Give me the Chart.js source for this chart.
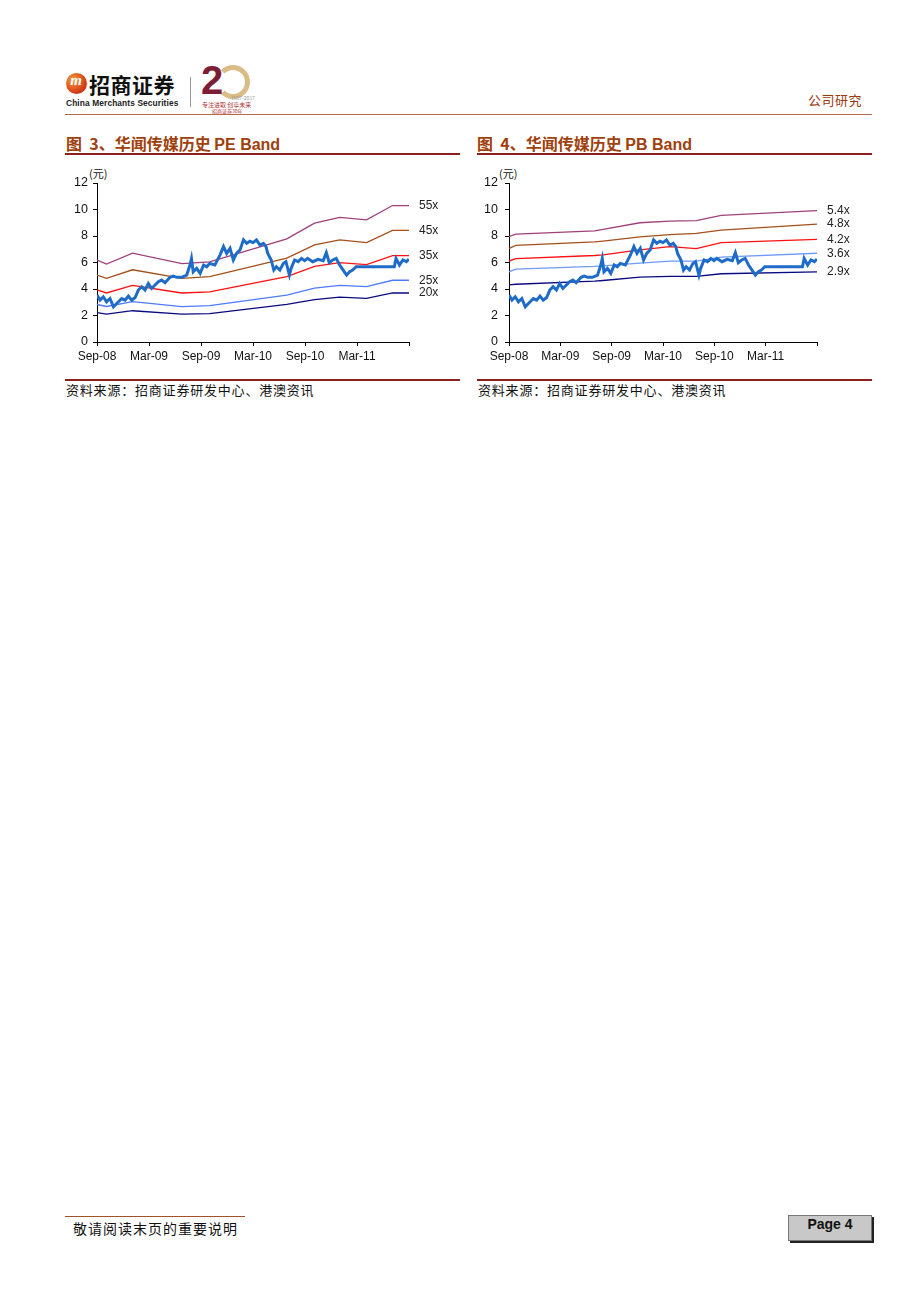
<!DOCTYPE html>
<html lang="zh">
<head>
<meta charset="UTF-8">
<title>华闻传媒历史 PE / PB Band</title>
<script src="https://cdn.jsdelivr.net/npm/chart.js"></script>
<style>
  html, body { margin: 0; padding: 0; background: #fff; }
  body { width: 920px; height: 1302px; position: relative; overflow: hidden;
         font-family: "Noto Sans CJK SC", "Liberation Sans", sans-serif; }
  .abs { position: absolute; }
  .title { font-size: 16px; font-weight: bold; color: #A0400C; white-space: nowrap; }
  .title .en { font-family: "Liberation Sans", Arial, sans-serif; }
  .rule { height: 2px; background: #8E1F1F; }
  .src { font-size: 13px; letter-spacing: 0.8px; color: #111; white-space: nowrap; }
  .unit { font-size: 11px; color: #111; }
</style>
</head>
<body>

<!-- 页眉 -->
<div class="abs" style="left:66px;top:73px;width:21px;height:21px;border-radius:50%;background:radial-gradient(circle at 35% 35%,#F6A23A,#D8401A 60%,#A61C10);"></div>
<div class="abs" style="left:67px;top:72px;width:18px;text-align:center;color:#fff;font:italic bold 15px 'Liberation Serif',serif;">m</div>
<div class="abs" style="left:89px;top:69px;font-size:21px;font-weight:bold;color:#111;letter-spacing:0.5px;">招商证券</div>
<div class="abs" style="left:66px;top:98px;font:bold 8.4px 'Liberation Sans',Arial,sans-serif;color:#222;letter-spacing:0.1px;">China Merchants Securities</div>
<div class="abs" style="left:190px;top:77px;width:1px;height:30px;background:#999;"></div>
<div class="abs" style="left:216px;top:65px;width:24px;height:24px;border-radius:50%;border:5px solid #D9BC86;border-left-color:transparent;"></div>
<div class="abs" style="left:201px;top:58px;font:bold 40px 'Liberation Sans',Arial,sans-serif;color:#7B1E35;">2</div>
<div class="abs" style="left:231px;top:94px;font-size:5px;color:#999;">1987-2017</div>
<div class="abs" style="left:202px;top:100px;font-size:6px;color:#B03030;">专注进取 创享未来</div>
<div class="abs" style="left:212px;top:107px;font-size:5px;color:#B03030;">招商证券30年</div>
<div class="abs" style="left:808px;top:90px;font-size:13px;color:#9A3A12;letter-spacing:0.5px;">公司研究</div>
<div class="abs" style="left:65px;top:114px;width:807px;height:1px;background:#B56A50;"></div>

<!-- 图 3 -->
<div class="abs title" style="left:66px;top:131px;">图&nbsp; 3、华闻传媒历史 <span class="en">PE Band</span></div>
<div class="abs rule" style="left:65px;top:153px;width:395px;"></div>
<div class="abs unit" style="left:89px;top:165px;">(元)</div>
<canvas id="peChart" class="abs" style="left:60px;top:160px;" width="400" height="215"></canvas>
<div class="abs rule" style="left:65px;top:379px;width:395px;"></div>
<div class="abs src" style="left:66px;top:380px;">资料来源：招商证券研发中心、港澳资讯</div>

<!-- 图 4 -->
<div class="abs title" style="left:477px;top:131px;">图&nbsp; 4、华闻传媒历史 <span class="en">PB Band</span></div>
<div class="abs rule" style="left:477px;top:153px;width:395px;"></div>
<div class="abs unit" style="left:499px;top:165px;">(元)</div>
<canvas id="pbChart" class="abs" style="left:470px;top:160px;" width="410" height="215"></canvas>
<div class="abs rule" style="left:477px;top:379px;width:395px;"></div>
<div class="abs src" style="left:478px;top:380px;">资料来源：招商证券研发中心、港澳资讯</div>

<!-- 页脚 -->
<div class="abs" style="left:65px;top:1216px;width:180px;height:1px;background:#A0522D;"></div>
<div class="abs" style="left:73px;top:1218px;font-size:14px;letter-spacing:1px;color:#111;">敬请阅读末页的重要说明</div>
<div class="abs" style="left:788px;top:1215px;width:82px;height:24px;background:#C8C8C8;border:1px solid #777;box-shadow:2px 2px 0 #222;text-align:center;line-height:24px;font:bold 14px 'Liberation Sans',Arial,sans-serif;color:#111;">Page 4</div>

<script>
// 横轴：自 2008 年 9 月起的月数
var xTickLabels = ['Sep-08', 'Mar-09', 'Sep-09', 'Mar-10', 'Sep-10', 'Mar-11', ''];

// 股价（元）
var priceMonths = [
    0, 0.35, 0.73, 1.1, 1.5, 1.9, 2.27, 2.85, 3.23, 3.62,
    4.0, 4.4, 4.77, 5.15, 5.54, 5.92, 6.3, 6.7, 7.08, 7.46,
    7.85, 8.42, 8.8, 9.2, 9.77, 10.35, 10.73, 10.9, 11.1, 11.5,
    11.9, 12.3, 12.65, 13.0, 13.6, 14.2, 14.6, 14.96, 15.35, 15.73,
    16.1, 16.5, 16.9, 17.27, 17.65, 18.0, 18.4, 18.8, 19.2, 19.5,
    19.7, 20.1, 20.4, 20.7, 21.1, 21.5, 21.8, 22.2, 22.4, 22.8,
    23.2, 23.6, 23.96, 24.3, 24.9, 25.5, 26.1, 26.46, 26.8, 27.2,
    27.6, 28.0, 28.4, 28.8, 29.15, 29.5, 29.9, 34.3, 34.5, 34.9,
    35.3, 35.7, 36
];
var priceValues = [
    3.54, 3.16, 3.41, 3.03, 3.28, 2.65, 2.9, 3.28, 3.16, 3.46,
    3.16, 3.36, 3.92, 4.17, 3.92, 4.42, 4.04, 4.3, 4.55, 4.67,
    4.47, 4.88, 4.98, 4.88, 4.88, 5.05, 5.81, 6.3, 5.3, 5.56,
    5.18, 5.81, 5.68, 5.93, 5.81, 6.57, 7.2, 6.69, 7.07, 6.19,
    6.69, 6.95, 7.71, 7.45, 7.6, 7.5, 7.7, 7.32, 7.45, 7.2,
    6.69, 6.19, 5.43, 5.68, 5.43, 5.93, 6.06, 5.05, 5.56, 6.19,
    6.06, 6.31, 6.14, 6.31, 6.06, 6.24, 6.14, 6.74, 5.98, 6.19,
    6.31, 5.81, 5.43, 5.05, 5.3, 5.43, 5.68, 5.68, 6.31, 5.81,
    6.19, 6.06, 6.25
];

// PE Band
var peMonths = [0, 1.1, 4.1, 9.8, 13, 21.9, 25.1, 28, 31.1, 34.1, 36];
var pe55 = [6.19, 5.88, 6.70, 5.92, 6.05, 7.78, 8.97, 9.40, 9.22, 10.30, 10.30];
var pe45 = [5.05, 4.80, 5.45, 4.80, 4.94, 6.33, 7.33, 7.70, 7.50, 8.42, 8.42];
var pe35 = [3.93, 3.70, 4.28, 3.70, 3.78, 4.94, 5.70, 5.99, 5.84, 6.52, 6.52];
var pe25 = [2.83, 2.68, 3.04, 2.67, 2.75, 3.54, 4.06, 4.27, 4.18, 4.66, 4.66];
var pe20 = [2.22, 2.10, 2.36, 2.10, 2.14, 2.84, 3.20, 3.38, 3.30, 3.70, 3.70];

// PB Band
var pbMonths = [0, 0.8, 10, 11, 15.3, 18.8, 21.9, 24.8, 36];
var pb54 = [7.95, 8.14, 8.38, 8.50, 9.00, 9.12, 9.16, 9.55, 9.92];
var pb48 = [7.05, 7.30, 7.56, 7.62, 7.94, 8.10, 8.20, 8.45, 8.90];
var pb42 = [6.11, 6.30, 6.53, 6.58, 6.96, 7.20, 7.05, 7.50, 7.74];
var pb36 = [5.30, 5.50, 5.70, 5.75, 5.96, 6.10, 6.10, 6.40, 6.70];
var pb29 = [4.31, 4.36, 4.59, 4.64, 4.90, 4.95, 4.95, 5.15, 5.30];

var FONT = '"Liberation Sans", Arial, sans-serif';

function pts(xs, ys) {
    return xs.map(function (x, i) { return { x: x, y: ys[i] }; });
}

function band(tag, xs, ys, color) {
    return { tag: tag, data: pts(xs, ys), borderColor: color, borderWidth: 1.3, order: 1 };
}

// 在右侧写出倍数标签
var bandLabels = {
    id: 'bandLabels',
    afterDatasetsDraw: function (chart) {
        var ctx = chart.ctx, area = chart.chartArea, ys = chart.scales.y;
        ctx.save();
        ctx.font = '12px ' + FONT;
        ctx.fillStyle = '#222';
        ctx.textBaseline = 'middle';
        chart.data.datasets.forEach(function (ds) {
            if (!ds.tag) return;
            var last = ds.data[ds.data.length - 1];
            ctx.fillText(ds.tag, area.right + 10, ys.getPixelForValue(last.y));
        });
        ctx.restore();
    }
};

function makeChart(id, bands, yWidth, rightPad, yPad) {
    var datasets = [{
        data: pts(priceMonths, priceValues),
        borderColor: '#1E6CC8',
        borderWidth: 3,
        order: 0
    }].concat(bands);

    return new Chart(document.getElementById(id), {
        type: 'line',
        data: { datasets: datasets },
        plugins: [bandLabels],
        options: {
            responsive: false,
            animation: false,
            devicePixelRatio: 1,
            layout: { padding: { top: 23, right: rightPad, left: 0, bottom: 0 } },
            elements: { point: { radius: 0 }, line: { tension: 0 } },
            plugins: { legend: { display: false }, tooltip: { enabled: false } },
            scales: {
                x: {
                    type: 'linear', min: 0, max: 36,
                    afterFit: function (s) { s.height = 33; },
                    border: { color: '#000', width: 1 },
                    grid: { drawOnChartArea: false, tickLength: 4, tickColor: '#000' },
                    ticks: {
                        stepSize: 6, autoSkip: false, maxRotation: 0, padding: 3,
                        color: '#111', font: { family: FONT, size: 12 },
                        callback: function (v) { return xTickLabels[v / 6] || ''; }
                    }
                },
                y: {
                    min: 0, max: 12,
                    afterFit: function (s) { s.width = yWidth; },
                    border: { color: '#000', width: 1 },
                    grid: { drawOnChartArea: false, tickLength: 4, tickColor: '#000' },
                    ticks: {
                        stepSize: 2, padding: yPad,
                        color: '#111', font: { family: FONT, size: 12.5 }
                    }
                }
            }
        }
    });
}

makeChart('peChart', [
    band('55x', peMonths, pe55, '#A0407A'),
    band('45x', peMonths, pe45, '#A5501A'),
    band('35x', peMonths, pe35, '#FF1010'),
    band('25x', peMonths, pe25, '#4F7BFF'),
    band('20x', peMonths, pe20, '#0A0A80')
], 37, 51, 5);

makeChart('pbChart', [
    band('5.4x', pbMonths, pb54, '#A0407A'),
    band('4.8x', pbMonths, pb48, '#A5501A'),
    band('4.2x', pbMonths, pb42, '#FF1010'),
    band('3.6x', pbMonths, pb36, '#6F9BFF'),
    band('2.9x', pbMonths, pb29, '#0A0A80')
], 39, 63, 7);
</script>
</body>
</html>
